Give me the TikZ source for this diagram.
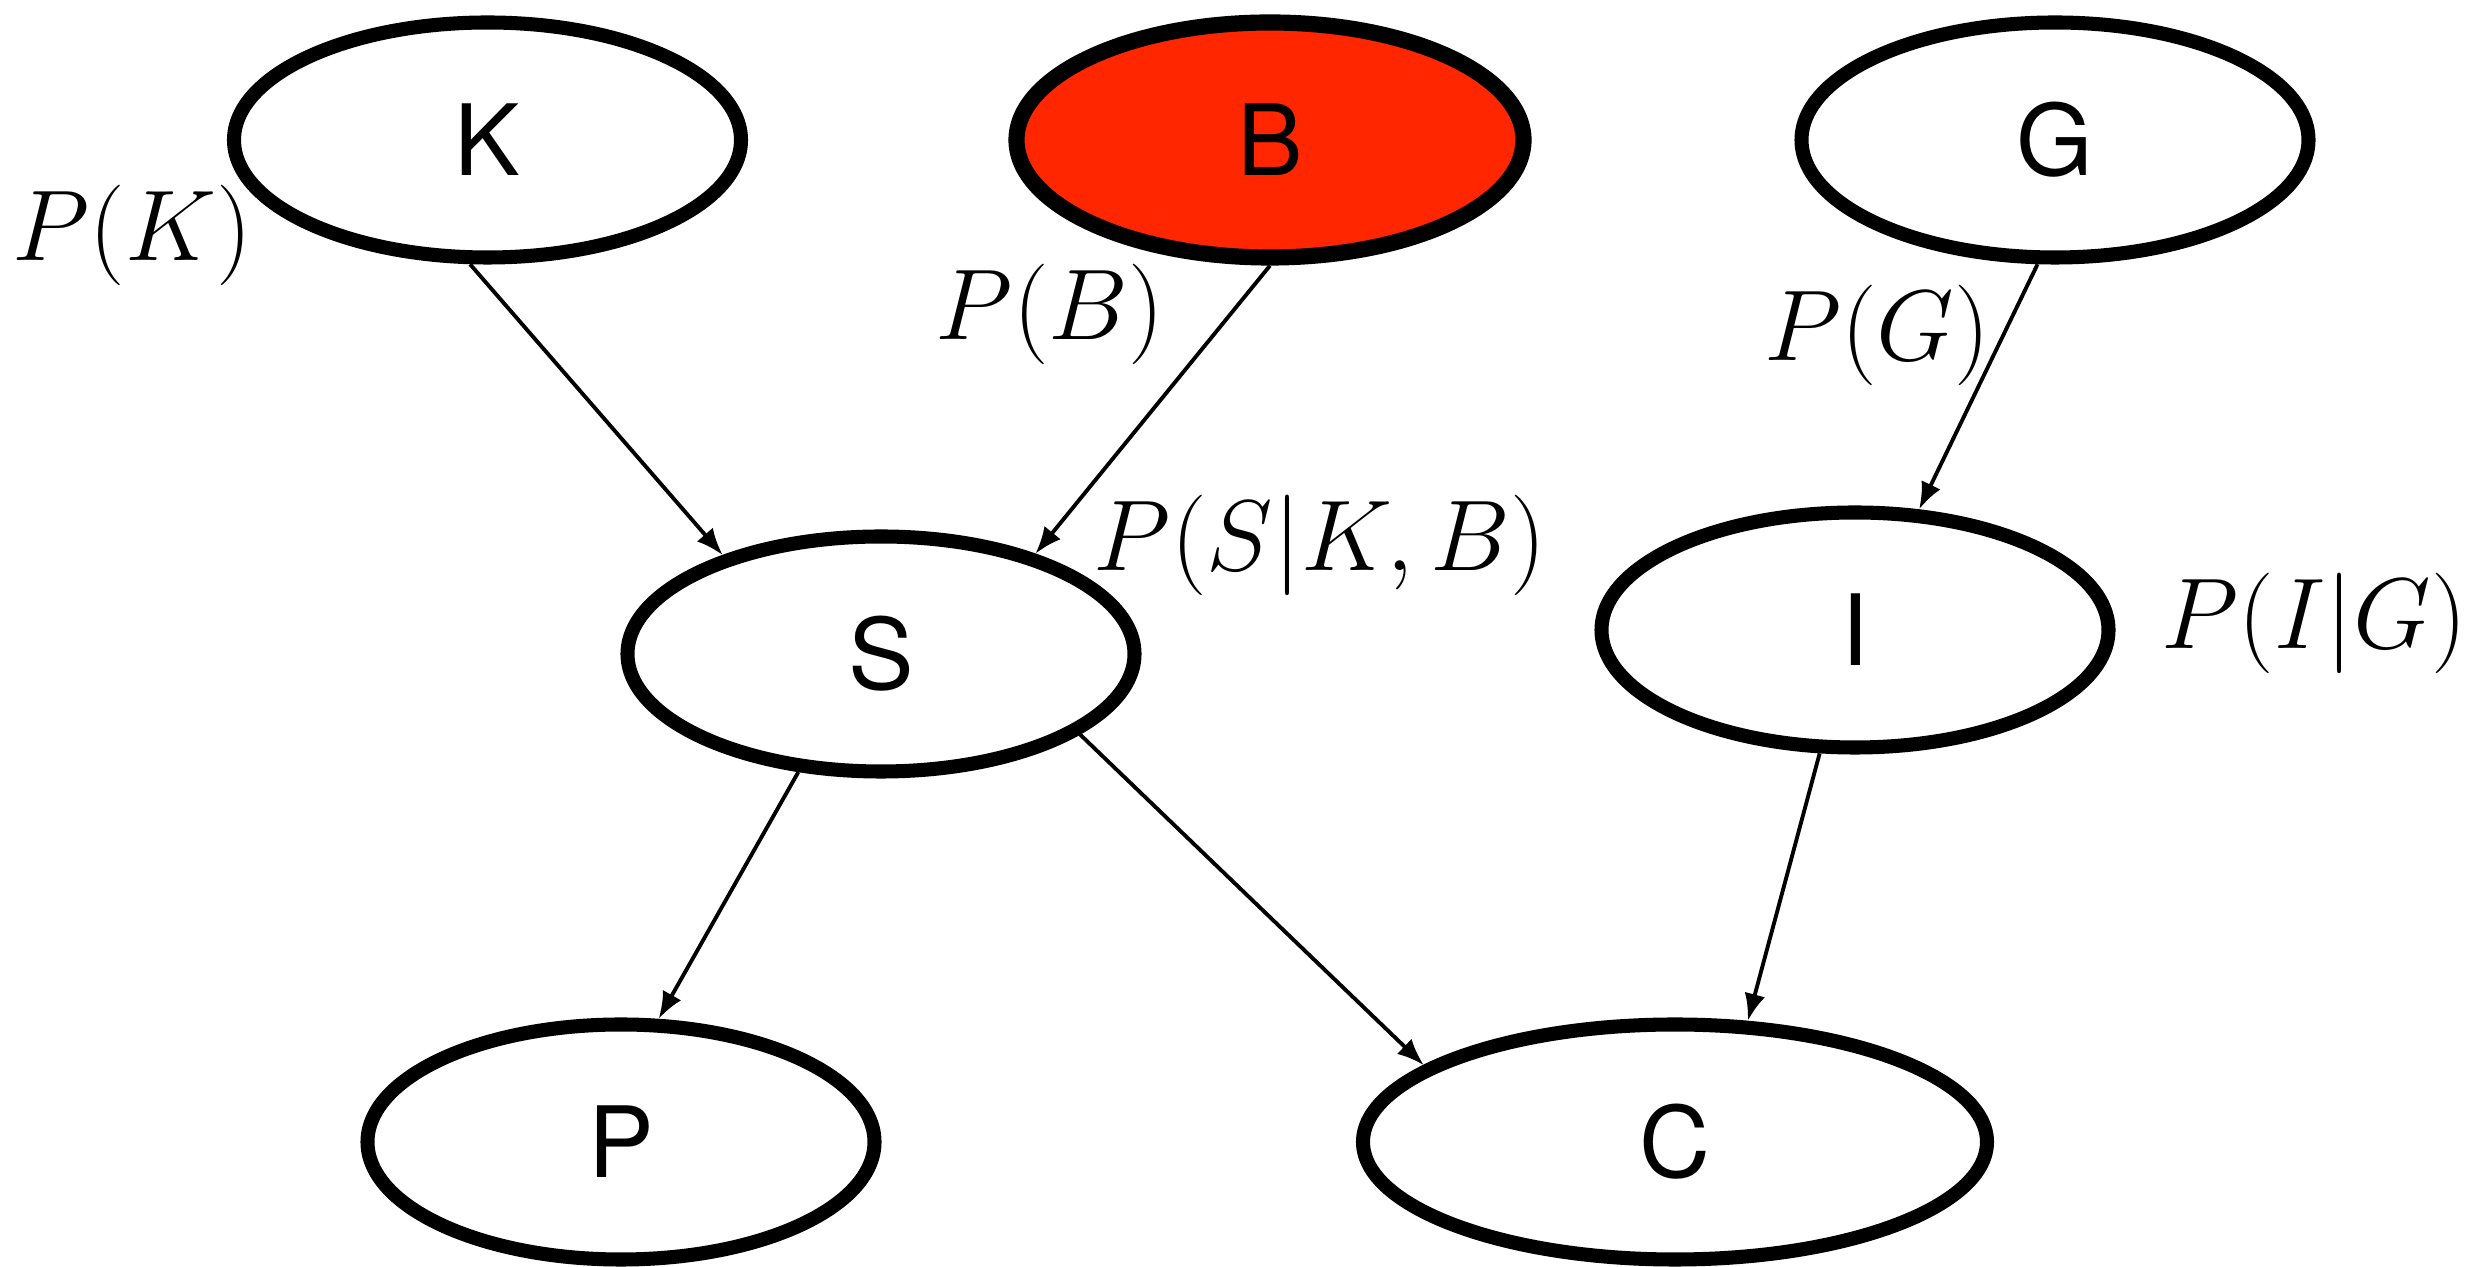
\RequirePackage{fix-cm}
\documentclass[tikz,border=0pt]{standalone}
\usepackage{fontspec}
\setsansfont{TeX Gyre Heros}
\usetikzlibrary{shapes.geometric,arrows.meta}
\definecolor{observed}{HTML}{FF2600}

\begin{document}
\begin{tikzpicture}[font=\fontsize{28.6}{32}\selectfont,
  var/.style={ellipse,draw,line width=4pt,minimum width=5.07cm,minimum height=2.35cm,
    inner sep=0pt,font=\sffamily\fontsize{28}{32}\selectfont},
  dep/.style={-{Latex[length=2.7mm,width=2.1mm]},line width=1.1pt}]
  \useasboundingbox (0,0) rectangle (24.9,12.67);

  % Top row: root variables, B is observed.
  \node[var] (K) at (4.875,11.27) {K};
  \node[var,fill=observed,line width=4.6pt] (B) at (12.70,11.27) {B};
  \node[var] (G) at (20.55,11.27) {G};

  % Middle and bottom rows.
  \node[var] (S) at (8.81,6.13) {S};
  \node[var] (I) at (18.55,6.37) {I};
  \node[var] (P) at (6.21,1.25) {P};
  \node[var,minimum width=6.24cm] (C) at (16.75,1.25) {C};

  % Factors.
  \node (pK) at (1.32,10.32) {$P(K)$};
  \node (pB) at (10.50,9.53) {$P(B)$};
  \node (pS) at (13.20,7.22) {$P(S|K,B)$};
  \node (pG) at (18.77,9.32) {$P(G)$};
  \node (pI) at (23.14,6.44) {$P(I|G)$};

  % Edges.
  \draw[dep] (K.262.7) -- (S.148.6);
  \draw[dep] (B.270) -- (S.33.4);
  \draw[dep] (G.262) -- (I.62);
  \draw[dep] (S.235.3) -- (P.73.1);
  \draw[dep] (S.338.7) -- (C.163.3);
  \draw[dep] (I.254) -- (C.59.2);
\end{tikzpicture}
\end{document}
